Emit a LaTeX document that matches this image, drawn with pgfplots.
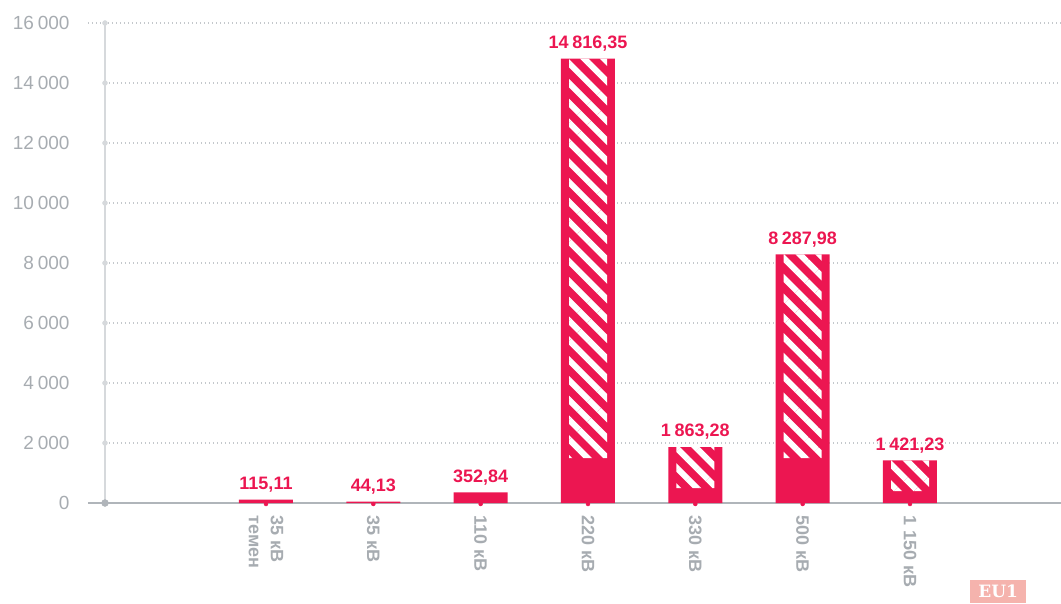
\documentclass[border=0pt]{standalone}
\usepackage{pgfplots}
\pgfplotsset{compat=1.18}
\usepackage{pgfplotstable}
\usetikzlibrary{patterns.meta}
\usepackage{fontspec}
\setmainfont{Liberation Sans}
\newfontfamily\badgefont{DejaVu Serif}
\definecolor{barred}{HTML}{EC1651}
\definecolor{ticktxt}{HTML}{A7ACB1}
\definecolor{gridc}{HTML}{C4C8CC}
\definecolor{yaxc}{HTML}{D6D9DC}
\definecolor{xaxc}{HTML}{B0B5BA}
\definecolor{badge}{HTML}{F5B3AD}
\newcommand\ts{\hspace{0.2em}}

\pgfplotstableread{
x y lab base hatch
0 115.11 {115,11} 0 0
1 44.13 {44,13} 0 0
2 352.84 {352,84} 0 0
3 14816.35 {14\ts 816,35} 1500 13316.35
4 1863.28 {1\ts 863,28} 500 1363.28
5 8287.98 {8\ts 287,98} 1500 6787.98
6 1421.23 {1\ts 421,23} 400 1021.23
}\data

\begin{document}
\begin{tikzpicture}
\path[use as bounding box] (-105pt,-100pt) rectangle (956pt,503pt);
\begin{axis}[
  at={(0pt,0pt)}, anchor=south west,
  scale only axis, width=956pt, height=480pt,
  xmin=-1.5, xmax=7.407, ymin=0, ymax=16000,
  clip=false,
  axis lines*=left,
  x axis line style={xaxc, line width=2pt, shorten <=-17pt},
  y axis line style={yaxc, line width=1.5pt},
  ytick={0,2000,...,16000},
  scaled y ticks=false,
  /pgf/number format/1000 sep={\ts},
  /pgf/number format/assume math mode=true,
  yticklabel style={font=\fontsize{19}{21}\selectfont, text=ticktxt, xshift=-32pt},
  ymajorgrids,
  major grid style={gridc, line width=1.1pt, dash pattern=on 1.2pt off 2.8pt, shorten <=-17pt},
  xtick={0,...,6},
  xticklabels={{35 кВ\\темен},35 кВ,110 кВ,220 кВ,330 кВ,500 кВ,1 150 кВ},
  xticklabel style={rotate=-90, anchor=west, align=left,
     font=\fontsize{18}{22}\selectfont\bfseries, text=ticktxt, xshift=9pt},
  major tick length=0pt,
  tick style={draw=none},
]
\addplot[ybar, bar shift=0pt, bar width=54pt, fill=barred, draw=none,
  point meta=explicit symbolic,
  nodes near coords,
  every node near coord/.append style={font=\fontsize{18}{20}\selectfont\bfseries, text=barred, anchor=south, yshift=4pt}]
  table[x=x, y=y, meta=lab]{\data};
\addplot[only marks, mark=*, mark size=2pt, barred, mark options={yshift=-1pt}] table[x=x, y expr=0]{\data};
\addplot[only marks, mark=*, mark size=2.5pt, color=yaxc] coordinates {(-1.5,2000) (-1.5,4000) (-1.5,6000) (-1.5,8000) (-1.5,10000) (-1.5,12000) (-1.5,14000) (-1.5,16000)};
\addplot[only marks, mark=*, mark size=3.5pt, color=xaxc] coordinates {(-1.5,0)};
\end{axis}
\begin{axis}[
  at={(0pt,0pt)}, anchor=south west,
  scale only axis, width=956pt, height=480pt,
  xmin=-1.5, xmax=7.407, ymin=0, ymax=16000,
  hide axis, ybar stacked, bar width=38pt,
]
\addplot[draw=none, fill=none] table[x=x, y=base]{\data};
\addplot[draw=none, pattern={Lines[angle=-45, distance=14pt, line width=6pt]}, pattern color=white] table[x=x, y=hatch]{\data};
\end{axis}
\node[fill=badge, text=white, font=\badgefont\bfseries\fontsize{17}{20}\selectfont, minimum width=56pt, minimum height=23pt, inner sep=0pt, anchor=north west] at (865pt,-77pt) {EU1};
\end{tikzpicture}
\end{document}
